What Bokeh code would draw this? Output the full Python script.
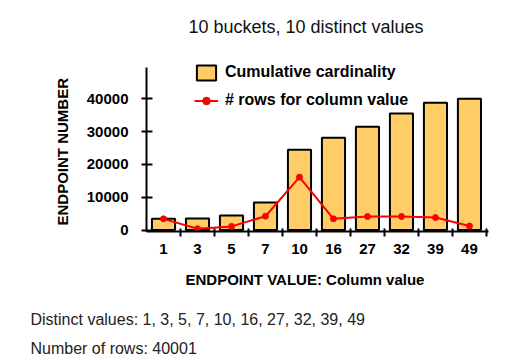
from bokeh.plotting import figure
from bokeh.models import (Range1d, FixedTicker, NumeralTickFormatter, Legend,
                          LegendItem, Label, Title, ColumnDataSource)
from bokeh.embed import file_html
from bokeh.resources import INLINE

# ---- data ----
values = ["1", "3", "5", "7", "10", "16", "27", "32", "39", "49"]
cumulative = [3400, 3500, 4400, 8400, 24500, 28100, 31500, 35500, 38800, 40000]
rows_per_value = [3400, 400, 1100, 4200, 16100, 3400, 4100, 4100, 3800, 1200]
y_ticks = [0, 10000, 20000, 30000, 40000]
y_axis_top = 49500

title_text = "10 buckets, 10 distinct values"
x_label = "ENDPOINT VALUE: Column value"
y_label = "ENDPOINT NUMBER"
bar_name = "Cumulative cardinality"
line_name = "# rows for column value"
note1 = "Distinct values: " + ", ".join(values)
note2 = "Number of rows: 40001"

FONT = "Liberation Sans"
W, H = 505, 360
BL, BR, BT = 146, 17, 0
FRAME_BOTTOM = 231
BB = H - FRAME_BOTTOM
PX_PER_UNIT = 131.2 / 40000.0
ZERO_PX = 229.5
X0, X1 = -0.5, 9.56
Y0 = -(FRAME_BOTTOM - ZERO_PX) / PX_PER_UNIT
Y1 = Y0 + (FRAME_BOTTOM - BT) / PX_PER_UNIT

idx = list(range(len(values)))
src = ColumnDataSource(dict(x=idx, cum=cumulative, rows=rows_per_value))

p = figure(width=W, height=H, output_backend="svg", toolbar_location=None,
           x_range=Range1d(X0, X1), y_range=Range1d(Y0, Y1),
           min_border_left=BL, min_border_right=BR, min_border_top=BT,
           min_border_bottom=BB)
p.xgrid.visible = False
p.ygrid.visible = False
p.outline_line_color = None
p.background_fill_color = "white"

bars = p.vbar(x="x", top="cum", bottom=0, width=0.68, source=src,
              fill_color="#FFCC66", line_color="black", line_width=2)
ln = p.line(x="x", y="rows", source=src, line_color="#FF0000", line_width=2)
pts = p.scatter(x="x", y="rows", source=src, size=6, marker="circle",
                fill_color="#FF0000", line_color="#FF0000")

# x axis
xa = p.xaxis[0]
xa.ticker = FixedTicker(ticks=idx, minor_ticks=[i + 0.5 for i in idx])
xa.major_label_overrides = {i: v for i, v in zip(idx, values)}
xa.major_tick_line_color = None
xa.major_tick_in = 0
xa.major_tick_out = 0
xa.minor_tick_line_color = "black"
xa.minor_tick_line_width = 2
xa.minor_tick_in = 3
xa.minor_tick_out = 5
xa.axis_line_width = 2
xa.axis_line_color = "black"
xa.major_label_standoff = 7
xa.major_label_text_font = FONT
xa.major_label_text_font_style = "bold"
xa.major_label_text_font_size = "15px"
xa.major_label_text_color = "black"

# y axis
ya = p.yaxis[0]
ya.ticker = FixedTicker(ticks=y_ticks, minor_ticks=[])
ya.formatter = NumeralTickFormatter(format="0")
ya.bounds = (Y0, y_axis_top)
ya.major_tick_line_color = "black"
ya.major_tick_line_width = 2
ya.major_tick_in = 6
ya.major_tick_out = 5
ya.minor_tick_line_color = None
ya.axis_line_width = 2
ya.axis_line_color = "black"
ya.major_label_standoff = 13
ya.major_label_text_font = FONT
ya.major_label_text_font_style = "bold"
ya.major_label_text_font_size = "15px"
ya.major_label_text_color = "black"

legend = Legend(items=[LegendItem(label=bar_name, renderers=[bars]),
                       LegendItem(label=line_name, renderers=[ln, pts])],
                location=(48, 121), padding=0, margin=0, spacing=8,
                glyph_width=24, glyph_height=19, label_height=20,
                label_standoff=7, border_line_color=None,
                background_fill_alpha=0,
                label_text_font=FONT, label_text_font_style="bold",
                label_text_font_size="16px", label_text_color="black")
p.add_layout(legend)


def dx(fx):
    return X0 + (fx - BL) / (W - BL - BR) * (X1 - X0)


def dy(fy):
    return Y0 + (FRAME_BOTTOM - fy) / PX_PER_UNIT


p.add_layout(Label(x=dx(305.5), y=dy(26), text=title_text, text_align="center",
                   text_baseline="alphabetic", text_font=FONT,
                   text_font_size="18px", text_color="#111111"))

# axis titles placed as panel titles so they can sit where the reference has them
p.add_layout(Title(text=y_label, align="left", offset=6, standoff=26,
                   vertical_align="bottom", text_font=FONT,
                   text_font_size="15px", text_font_style="bold",
                   text_color="black"), "left")
p.add_layout(Title(text=x_label, align="left", offset=185 - BL, standoff=29,
                   vertical_align="top", text_font=FONT,
                   text_font_size="15px", text_font_style="bold",
                   text_color="black"), "below")


# notes below the x axis, stacked as titles in the bottom panel
def spacer(gap):
    return Title(text=" ", text_font_size="1px", standoff=gap,
                 align="left", offset=0)


def note(text):
    return Title(text=text, align="left", offset=30 - BL, standoff=0,
                 vertical_align="top", text_font=FONT,
                 text_font_size="16px", text_font_style="normal",
                 text_color="#222222")


p.add_layout(spacer(3), "below")
p.add_layout(note(note1), "below")
p.add_layout(spacer(7), "below")
p.add_layout(note(note2), "below")

open("out.html", "w").write(file_html(p, INLINE))
